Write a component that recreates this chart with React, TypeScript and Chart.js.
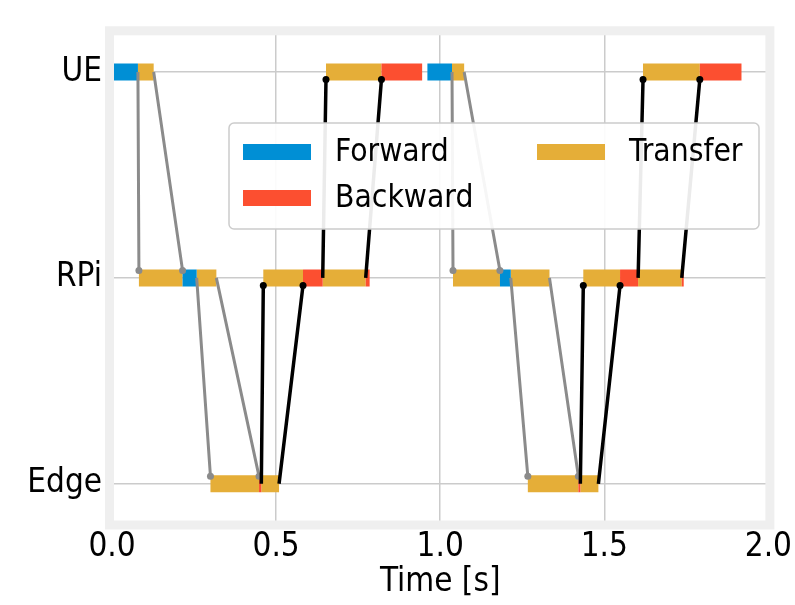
import { useEffect, useRef } from 'react';
import { Chart, registerables } from 'chart.js';

Chart.register(...registerables);

// ---- data ----
const devices = ['Edge', 'RPi', 'UE']; // y index 0,1,2
const xTicks = [0, 0.5, 1.0, 1.5, 2.0];
const xTitle = 'Time [s]';

// [start, end] in seconds
const forwardUE = [[0.0, 0.079], [0.961, 1.036]];
const forwardRPi = [[0.215, 0.258], [1.182, 1.215]];
const forwardEdge: number[][] = [];

const transferUE = [[0.079, 0.127], [0.652, 0.821], [1.036, 1.073], [1.618, 1.791]];
const transferRPi = [
  [0.082, 0.215], [0.258, 0.318], [0.461, 0.582], [0.642, 0.773],
  [1.039, 1.182], [1.215, 1.333], [1.436, 1.548], [1.603, 1.736],
];
const transferEdge = [[0.300, 0.448], [0.455, 0.509], [1.267, 1.421], [1.427, 1.482]];

const backwardUE = [[0.821, 0.945], [1.791, 1.918]];
const backwardRPi = [[0.582, 0.642], [0.773, 0.785], [1.548, 1.603], [1.736, 1.742]];
const backwardEdge = [[0.448, 0.455], [1.421, 1.427]];

// [fromTime, fromDevice, toTime, toDevice]
const activationLinks = [
  [0.079, 2, 0.082, 1], [0.127, 2, 0.215, 1], [0.258, 1, 0.300, 0], [0.318, 1, 0.448, 0],
  [1.036, 2, 1.039, 1], [1.073, 2, 1.182, 1], [1.215, 1, 1.267, 0], [1.333, 1, 1.421, 0],
];
const gradientLinks = [
  [0.455, 0, 0.461, 1], [0.509, 0, 0.582, 1], [0.642, 1, 0.652, 2], [0.773, 1, 0.821, 2],
  [1.427, 0, 1.436, 1], [1.482, 0, 1.548, 1], [1.603, 1, 1.618, 2], [1.736, 1, 1.791, 2],
];

// ---- styles ----
const BLUE = '#008fd5';
const RED = '#fc4f30';
const YELLOW = '#e5ae38';
const GRAY = '#8b8b8b';
const FONT = '"DejaVu Sans Condensed", "DejaVu Sans", sans-serif';
const AXIS_FONT = 33;
const LEGEND_FONT = 31.5;
const BAR_WIDTH = 17;

function segs(byDevice: number[][][]) {
  const out: any[] = [];
  byDevice.forEach((list, dev) => {
    list.forEach(([s, e]) => {
      out.push({ x: s, y: dev }, { x: e, y: dev }, { x: e, y: null });
    });
  });
  return out;
}

function links(list: number[][]) {
  const out: any[] = [];
  list.forEach(([t0, d0, t1, d1]) => {
    out.push({ x: t0, y: d0 }, { x: t1, y: d1 }, { x: t1, y: null });
  });
  return out;
}

// arrows stop at the near edge of the target bar
const arrowEndPlugin = {
  id: 'arrowEnd',
  afterDatasetsUpdate(chart: any) {
    chart.data.datasets.forEach((ds: any, i: number) => {
      if (!ds.isLink) return;
      const meta = chart.getDatasetMeta(i);
      const pts = meta.data;
      for (let k = 1; k < pts.length; k += 3) {
        const p = pts[k], s = pts[k - 1];
        if (!p || !s) continue;
        const dir = Math.sign(s.y - p.y);
        p.y = p.y + dir * (BAR_WIDTH / 2 - 1);
      }
    });
  },
};

const framePlugin = {
  id: 'frame',
  afterDatasetsDraw(chart: any) {
    const { ctx, chartArea: ca } = chart;
    ctx.save();
    ctx.strokeStyle = '#efefef';
    ctx.lineWidth = 9;
    const l = ca.left - 2.5, t = ca.top, r = ca.right + 1.5, b = ca.bottom;
    ctx.strokeRect(l, t, r - l, b - t);
    ctx.restore();
  },
};

const legendItems = [
  { label: 'Forward', color: BLUE, col: 0, row: 0 },
  { label: 'Transfer', color: YELLOW, col: 1, row: 0 },
  { label: 'Backward', color: RED, col: 0, row: 1 },
];

const legendPlugin = {
  id: 'customLegend',
  afterDraw(chart: any) {
    const { ctx } = chart;
    ctx.save();
    const bx = 229, by = 123, bw = 530, bh = 106;
    ctx.beginPath();
    ctx.roundRect(bx, by, bw, bh, 5);
    ctx.fillStyle = 'rgba(255,255,255,0.92)';
    ctx.fill();
    ctx.strokeStyle = '#cccccc';
    ctx.lineWidth = 1.5;
    ctx.stroke();
    ctx.font = `${LEGEND_FONT}px ${FONT}`;
    ctx.textBaseline = 'middle';
    ctx.textAlign = 'left';
    legendItems.forEach((it) => {
      const x = bx + 14 + it.col * 294;
      const y = by + 29 + it.row * 46;
      ctx.fillStyle = it.color;
      ctx.fillRect(x, y - 8, 68, 16);
      ctx.fillStyle = '#000000';
      ctx.fillText(it.label, x + 92, y + 1);
    });
    ctx.restore();
  },
};

export default function App() {
  const ref = useRef<HTMLCanvasElement>(null);
  useEffect(() => {
    if (!ref.current) return;
    const lineDs = (label: string, data: any[], color: string) => ({
      label,
      data,
      borderColor: color,
      backgroundColor: color,
      borderWidth: BAR_WIDTH,
      borderCapStyle: 'butt' as const,
      pointRadius: 0,
      spanGaps: false,
      tension: 0,
    });
    const linkDs = (label: string, data: any[], color: string, width: number) => ({
      label,
      data,
      isLink: true,
      borderColor: color,
      backgroundColor: color,
      borderWidth: width,
      pointRadius: (c: any) => (c.index % 3 === 1 ? 3.5 : 0),
      pointBorderWidth: 0,
      spanGaps: false,
      tension: 0,
    });
    const chart = new Chart(ref.current, {
      type: 'line',
      data: {
        datasets: [
          linkDs('grad', links(gradientLinks), '#000000', 3.5),
          linkDs('act', links(activationLinks), GRAY, 3),
          lineDs('Forward', segs([forwardEdge, forwardRPi, forwardUE]), BLUE),
          lineDs('Backward', segs([backwardEdge, backwardRPi, backwardUE]), RED),
          lineDs('Transfer', segs([transferEdge, transferRPi, transferUE]), YELLOW),
        ] as any,
      },
      options: {
        animation: false,
        responsive: false,
        maintainAspectRatio: false,
        layout: { padding: { top: 30.8, right: 23, left: 0, bottom: 0 } },
        plugins: { legend: { display: false }, tooltip: { enabled: false } },
        scales: {
          x: {
            type: 'linear',
            min: 0,
            max: 2,
            afterBuildTicks: (s: any) => { s.ticks = xTicks.map((v) => ({ value: v })); },
            afterFit: (s: any) => { s.height = 80; },
            grid: { color: '#cbcbcb', lineWidth: 1.5, drawTicks: false },
            border: { display: false },
            ticks: {
              color: '#000',
              padding: 3,
              maxRotation: 0,
              font: { family: FONT, size: AXIS_FONT },
              callback: (v: any) => Number(v).toFixed(1),
            },
            title: {
              display: true,
              text: xTitle,
              color: '#000',
              font: { family: FONT, size: AXIS_FONT },
              padding: { top: 0, bottom: 3 },
            },
          },
          y: {
            type: 'linear',
            min: -0.2,
            max: 2.2,
            afterBuildTicks: (s: any) => { s.ticks = devices.map((_, i) => ({ value: i })); },
            afterFit: (s: any) => { s.width = 112; },
            grid: { color: '#cbcbcb', lineWidth: 1.5, drawTicks: false },
            border: { display: false },
            ticks: {
              color: '#000',
              padding: 10,
              font: { family: FONT, size: AXIS_FONT },
              callback: (v: any) => devices[Math.round(Number(v))] ?? '',
            },
          },
        },
      },
      plugins: [arrowEndPlugin, framePlugin, legendPlugin],
    });
    return () => chart.destroy();
  }, []);
  return (
    <div style={{ position: 'absolute', left: 0, top: 0, width: 795, height: 605, background: '#fff' }}>
      <canvas ref={ref} width={795} height={605} />
    </div>
  );
}
